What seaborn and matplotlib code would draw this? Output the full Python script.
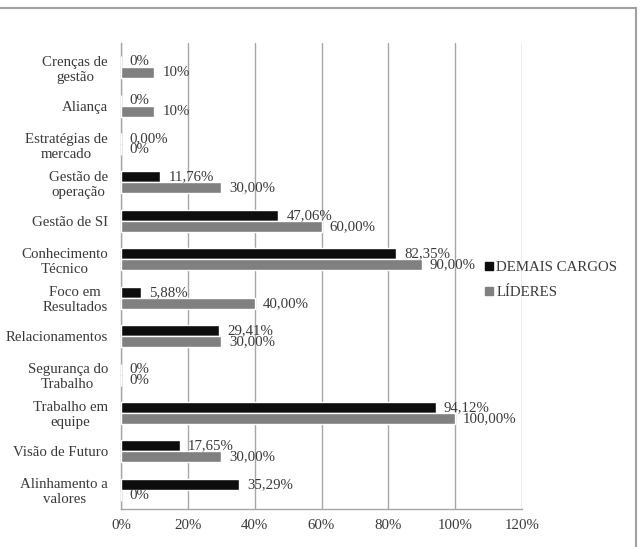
import matplotlib
matplotlib.use("Agg")
import matplotlib.pyplot as plt
import seaborn as sns
import pandas as pd
from matplotlib.lines import Line2D
from matplotlib.patches import Rectangle

categories = [
    "Crenças de\ngestão", "Aliança", "Estratégias de\nmercado", "Gestão de\noperação",
    "Gestão de SI", "Conhecimento\nTécnico", "Foco em\nResultados", "Relacionamentos",
    "Segurança do\nTrabalho", "Trabalho em\nequipe", "Visão de Futuro", "Alinhamento a\nvalores",
]
series_names = ["DEMAIS CARGOS", "LÍDERES"]
demais = [0, 0, 0, 11.76, 47.06, 82.35, 5.88, 29.41, 0, 94.12, 17.65, 35.29]
lideres = [10, 10, 0, 30, 60, 90, 40, 30, 0, 100, 30, 0]
demais_labels = ["0%", "0%", "0,00%", "11,76%", "47,06%", "82,35%", "5,88%", "29,41%",
                 "0%", "94,12%", "17,65%", "35,29%"]
lideres_labels = ["10%", "10%", "0%", "30,00%", "60,00%", "90,00%", "40,00%", "30,00%",
                  "0%", "100,00%", "30,00%", "0%"]
x_ticks = [0, 20, 40, 60, 80, 100, 120]
x_tick_labels = ["0%", "20%", "40%", "60%", "80%", "100%", "120%"]

colors = {"DEMAIS CARGOS": "#0d0d0d", "LÍDERES": "#808080"}
text_color = "#3a3a3a"
fs = 10.7

df = pd.DataFrame({
    "cat": categories * 2,
    "val": demais + lideres,
    "serie": [series_names[0]] * len(categories) + [series_names[1]] * len(categories),
    "lab": demais_labels + lideres_labels,
})

sns.set_theme(style="white")
plt.rcParams["font.family"] = ["Liberation Serif", "DejaVu Serif"]

W, H = 640, 547
fig = plt.figure(figsize=(W / 100, H / 100), dpi=100)
ax = fig.add_axes([121 / W, 1 - 509 / H, (522 - 121) / W, (509 - 43) / H])

sns.barplot(data=df, y="cat", x="val", hue="serie", orient="h", palette=colors,
            width=0.573, dodge=True, ax=ax, legend=False, saturation=1,
            errorbar=None, zorder=3)

ax.set_xlim(0, 120)
ax.set_ylim(11.5, -0.63)
ax.set_xticks(x_ticks)
ax.set_xticklabels(x_tick_labels)
ax.set_xlabel("")
ax.set_ylabel("")
ax.xaxis.grid(True, color="#a6a6a6", lw=1, zorder=0)
ax.yaxis.grid(False)
ax.set_axisbelow(True)
for s in ["top", "right"]:
    ax.spines[s].set_visible(False)
for s in ["left", "bottom"]:
    ax.spines[s].set_color("#a6a6a6")
    ax.spines[s].set_linewidth(1)
ax.tick_params(axis="y", length=0, pad=9.4, labelsize=fs, labelcolor=text_color)
ax.tick_params(axis="x", length=0, pad=7, labelsize=fs, labelcolor=text_color)
for t in ax.get_yticklabels():
    t.set_multialignment("center")

# data labels
for container, labels in zip(ax.containers, [demais_labels, lideres_labels]):
    for bar, lab in zip(container, labels):
        xe = bar.get_x() + bar.get_width()
        yc = bar.get_y() + bar.get_height() / 2
        ax.annotate(lab, (xe, yc), xytext=(8, 0), textcoords="offset pixels",
                    ha="left", va="center", fontsize=fs, color=text_color, zorder=5)

handles = [Line2D([0], [0], marker="s", linestyle="", markersize=5.2,
                  markerfacecolor=colors[n], markeredgecolor=colors[n]) for n in series_names]
fig.legend(handles, series_names, loc="center left",
           bbox_to_anchor=(485 / W, 1 - 280 / H), frameon=False, fontsize=fs,
           handlelength=0.5, handletextpad=0.25, labelspacing=0.75,
           labelcolor=text_color, borderaxespad=0, borderpad=0)

fig.patches.append(Rectangle((-0.02, -0.02), 636 / W + 0.02, 1 - 8 / H + 0.02,
                             transform=fig.transFigure, fill=False,
                             edgecolor="#a0a0a0", lw=1.5))

fig.savefig("out.png", dpi=100, facecolor="white")
